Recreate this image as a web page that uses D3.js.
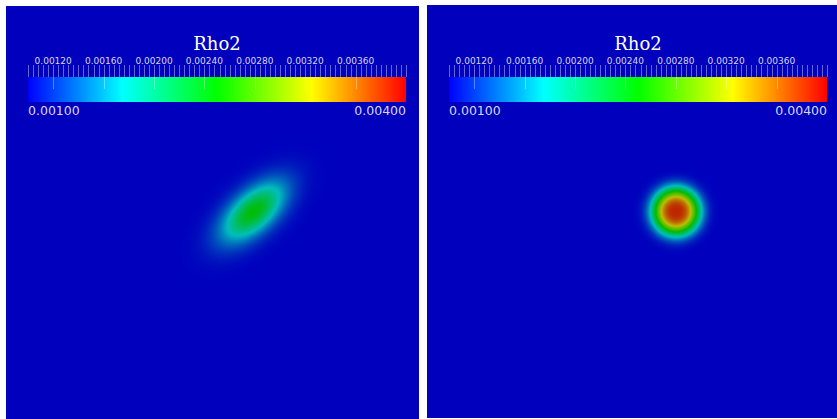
<!DOCTYPE html>
<html><head><meta charset="utf-8">
<script src="https://cdn.jsdelivr.net/npm/d3@7"></script>
<style>html,body{margin:0;padding:0;background:#fff;overflow:hidden} svg{display:block}</style>
</head><body><svg id="chart" width="837" height="419"></svg>
<script>
// ---- data ----
const fieldName = "Rho2";
const rangeMin = 0.001, rangeMax = 0.004;
const colorStops = [0.001, 0.00175, 0.0025, 0.00325, 0.004];
const colorStopColors = ["#0000ff", "#00ffff", "#00ff00", "#ffff00", "#ff0000"];
const majorTicks = [0.0012, 0.0016, 0.002, 0.0024, 0.0028, 0.0032, 0.0036];
const tickLabels = ["0.00120", "0.00160", "0.00200", "0.00240", "0.00280", "0.00320", "0.00360"];
const rangeLabels = ["0.00100", "0.00400"];
const minorStep = 0.00004;
const baseValue = 0.001;
// blob parameters per panel (domain units 0..1 of the panel)
const blobCenterX = [0.599, 0.603];
const blobCenterY = [0.498, 0.500];
const blobPeak = [0.00247, 0.00385];
const blobMajor = [0.093, 0.057];
const blobMinor = [0.047, 0.057];
const blobAngle = [42, 0];
const blobExponent = [2, 3];

// ---- layout ----
const W = 837, H = 419;
const panelX = [6, 427], panelY = [6, 5], panelSize = 413;
const shade = 0.74;

const svg = d3.select("#chart");
const color = d3.scaleLinear().domain(colorStops).range(colorStopColors).clamp(true);

function fieldValue(i, px, py) {
  const dx = px - blobCenterX[i], dy = py - blobCenterY[i];
  const a = blobAngle[i] * Math.PI / 180;
  const u = dx * Math.cos(a) - dy * Math.sin(a);
  const w = dx * Math.sin(a) + dy * Math.cos(a);
  const q = (u / blobMajor[i]) ** 2 + (w / blobMinor[i]) ** 2;
  return baseValue + (blobPeak[i] - baseValue) * Math.exp(-Math.pow(q, blobExponent[i] / 2));
}

const defs = svg.append("defs");
const grad = defs.append("linearGradient").attr("id", "cmap").attr("x1", "0%").attr("x2", "100%");
colorStops.forEach((v, k) => grad.append("stop")
  .attr("offset", ((v - rangeMin) / (rangeMax - rangeMin) * 100) + "%")
  .attr("stop-color", colorStopColors[k]));

panelX.forEach((x0, i) => {
  const y0 = panelY[i];
  const sx = d3.scaleLinear().domain([0, 1]).range([0, panelSize]);
  const canvas = document.createElement("canvas");
  canvas.width = panelSize; canvas.height = panelSize;
  const ctx = canvas.getContext("2d");
  const img = ctx.createImageData(panelSize, panelSize);
  for (let r = 0; r < panelSize; r++) {
    for (let c = 0; c < panelSize; c++) {
      const v = fieldValue(i, sx.invert(c + 0.5), sx.invert(r + 0.5));
      const col = d3.rgb(color(v));
      const k = (r * panelSize + c) * 4;
      img.data[k] = col.r * shade; img.data[k + 1] = col.g * shade; img.data[k + 2] = col.b * shade; img.data[k + 3] = 255;
    }
  }
  ctx.putImageData(img, 0, 0);
  const g = svg.append("g");
  g.append("image").attr("x", x0).attr("y", y0).attr("width", panelSize).attr("height", panelSize)
    .attr("href", canvas.toDataURL());

  // colorbar
  const barX0 = x0 + 22, barX1 = x0 + 400, barY = 77, barH = 25;
  const cb = d3.scaleLinear().domain([rangeMin, rangeMax]).range([barX0, barX1]);
  g.append("rect").attr("x", barX0).attr("y", barY).attr("width", barX1 - barX0).attr("height", barH)
    .attr("fill", "url(#cmap)");
  const minor = d3.range(0, Math.round((rangeMax - rangeMin) / minorStep) + 1).map(k => rangeMin + k * minorStep);
  g.selectAll(".mt").data(minor).enter().append("line")
    .attr("x1", d => Math.round(cb(d)) + 0.5).attr("x2", d => Math.round(cb(d)) + 0.5)
    .attr("y1", 65).attr("y2", barY)
    .attr("stroke", "#ffffff").attr("stroke-opacity", 0.4).attr("stroke-width", 1);
  g.selectAll(".jt").data(majorTicks).enter().append("line")
    .attr("x1", d => Math.round(cb(d)) + 0.5).attr("x2", d => Math.round(cb(d)) + 0.5)
    .attr("y1", barY).attr("y2", barY + 12)
    .attr("stroke", "#ffffff").attr("stroke-opacity", 0.35).attr("stroke-width", 1);
  g.selectAll(".tl").data(majorTicks).enter().append("text")
    .attr("x", d => cb(d)).attr("y", 64).attr("text-anchor", "middle")
    .attr("font-family", "DejaVu Sans").attr("font-size", 9).attr("fill", "#d8d8f4")
    .text((d, k) => tickLabels[k]);
  g.append("text").attr("x", barX0).attr("y", 115).attr("font-family", "DejaVu Sans")
    .attr("font-size", 12.5).attr("fill", "#d8d8f4").text(rangeLabels[0]);
  g.append("text").attr("x", barX1).attr("y", 115).attr("text-anchor", "end").attr("font-family", "DejaVu Sans")
    .attr("font-size", 12.5).attr("fill", "#d8d8f4").text(rangeLabels[1]);
  g.append("text").attr("x", (barX0 + barX1) / 2).attr("y", 50).attr("text-anchor", "middle")
    .attr("font-family", "DejaVu Serif").attr("font-size", 18).attr("fill", "#ffffff").text(fieldName);
});
</script></body></html>
